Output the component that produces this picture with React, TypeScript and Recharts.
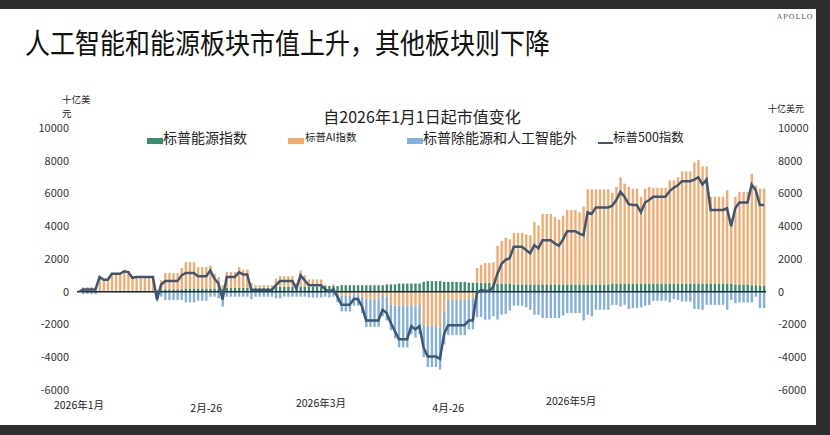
import React from "react";
import { Bar, ComposedChart, Line, ReferenceLine, XAxis, YAxis } from "recharts";

// daily values, 1 Jan 2026 onward, billions of USD
const energy = [
  0, 30, 30, 30, 30, 60, 60, 60, 60, 60,
  60, 60, 60, 60, 60, 60, 60, 60, 60, 60,
  100, 150, 150, 150, 150, 150, 200, 200, 200, 200,
  200, 200, 200, 200, 200, 200, 250, 250, 250, 250,
  250, 250, 250, 250, 250, 250, 250, 250, 300, 300,
  300, 300, 300, 300, 300, 300, 300, 300, 300, 300,
  350, 350, 350, 350, 400, 400, 400, 400, 400, 400,
  400, 400, 400, 400, 400, 450, 450, 450, 500, 500,
  500, 500, 500, 500, 600, 650, 650, 650, 650, 600,
  600, 600, 600, 600, 600, 550, 550, 550, 550, 550,
  550, 500, 500, 500, 500, 500, 450, 450, 450, 450,
  450, 450, 450, 450, 450, 450, 450, 450, 450, 450,
  450, 450, 450, 450, 450, 450, 450, 450, 450, 450,
  500, 500, 500, 500, 500, 500, 500, 500, 500, 500,
  500, 500, 500, 500, 500, 500, 500, 500, 500, 500,
  500, 500, 500, 500, 500, 500, 500, 500, 500, 500,
  450, 450, 450, 450, 400, 400, 350, 350,
];

const ai = [
  0, 250, 250, 250, 250, 900, 700, 700, 1100, 1100,
  1100, 1250, 1200, 850, 900, 900, 900, 900, 900, 100,
  600, 1000, 1000, 1000, 1000, 1300, 1600, 1600, 1600, 1300,
  1300, 1300, 1400, 900, 700, 200, 950, 950, 950, 1250,
  1100, 1100, 300, 150, 150, 150, 150, 150, 500, 650,
  650, 650, 650, 200, 1000, 700, 450, 450, 450, 450,
  100, -50, 100, -200, -250, -250, -250, -150, -150, -300,
  -450, -450, -450, -450, -200, -300, -800, -850, -850, -850,
  -850, -800, -900, -800, -2000, -2100, -2100, -2100, -2200, -1200,
  -500, -500, -500, -500, -500, -400, -400, 900, 1100, 1200,
  1200, 1300, 2300, 2600, 2800, 2700, 3150, 3150, 3150, 3050,
  3000, 3800, 3600, 4300, 4300, 4300, 4100, 3950, 4200, 4550,
  4550, 4550, 4400, 4750, 5800, 5800, 5800, 5800, 5800, 5800,
  5550, 5900, 6500, 6100, 5900, 5800, 5800, 5300, 5800, 5900,
  5850, 5850, 5850, 5850, 6300, 6300, 6500, 6850, 6850, 6850,
  7400, 7550, 7150, 7150, 5300, 5300, 5300, 5300, 5700, 4000,
  5350, 5650, 5650, 5650, 6800, 6100, 5950, 5950,
];

const other = [
  0, -150, -150, -150, -150, -50, -30, -30, -50, -50,
  -50, -50, -50, -50, -50, -50, -50, -50, -50, -600,
  -300, -500, -500, -500, -500, -500, -650, -650, -650, -550,
  -550, -550, -300, -300, -400, -900, -300, -300, -300, -300,
  -300, -300, -450, -300, -300, -300, -300, -300, -400, -400,
  -300, -300, -300, -300, -300, -300, -350, -350, -350, -350,
  -300, -300, -300, -450, -950, -950, -950, -700, -700, -1000,
  -1700, -1700, -1700, -1700, -1300, -1450, -1550, -2000, -2550, -2550,
  -2550, -1800, -1900, -1800, -2000, -2500, -2500, -2500, -2550, -2000,
  -2150, -2150, -2150, -2150, -2150, -1900, -1900, -1550, -1550, -1700,
  -1700, -1500, -1700, -1400, -1350, -1150, -850, -850, -850, -950,
  -1100, -1400, -1400, -1600, -1600, -1600, -1600, -1600, -1450, -1300,
  -1300, -1300, -1300, -1750, -1400, -1500, -1100, -1100, -1100, -1100,
  -800, -800, -900, -800, -1050, -1000, -1000, -950, -850, -800,
  -550, -550, -550, -550, -650, -450, -500, -600, -600, -600,
  -1050, -1050, -1100, -800, -800, -800, -800, -800, -1100, -500,
  -700, -650, -650, -650, -650, -300, -1000, -1000,
];

const sp500 = [
  0, 130, 130, 130, 130, 900, 730, 730, 1100, 1100,
  1100, 1250, 1200, 850, 900, 900, 900, 900, 900, -480,
  430, 650, 650, 650, 650, 1000, 1150, 1150, 1150, 950,
  950, 950, 1300, 800, 500, -480, 900, 900, 900, 1200,
  1050, 1050, 100, 100, 100, 100, 100, 100, 400, 650,
  650, 650, 650, 200, 1000, 700, 400, 400, 400, 400,
  150, 0, 150, -300, -800, -800, -800, -450, -450, -900,
  -1750, -1750, -1750, -1750, -1100, -1300, -1900, -2400, -2900, -2900,
  -2900, -2100, -2300, -2100, -3400, -3950, -3950, -3950, -4100, -2600,
  -2050, -2050, -2050, -2050, -2050, -1750, -1750, -100, 100, 50,
  50, 300, 1100, 1700, 1950, 2050, 2750, 2750, 2750, 2550,
  2350, 2850, 2650, 3150, 3150, 3150, 2950, 2800, 3200, 3700,
  3700, 3700, 3550, 3450, 4850, 4750, 5150, 5150, 5150, 5150,
  5250, 5600, 6100, 5800, 5350, 5300, 5300, 4850, 5450, 5600,
  5800, 5800, 5800, 5800, 6150, 6350, 6500, 6750, 6750, 6750,
  6850, 7000, 6550, 6850, 5000, 5000, 5000, 5000, 5100, 4000,
  5100, 5450, 5450, 5450, 6550, 6200, 5300, 5300,
];

const monthTicks = ["2026-01-01", "2026-02-01", "2026-03-01", "2026-04-01", "2026-05-01"];
const monthLabels = ["2026年1月", "2月-26", "2026年3月", "4月-26", "2026年5月"];
const yTicks = [-6000, -4000, -2000, 0, 2000, 4000, 6000, 8000, 10000];

const DAY = 86400000;
const start = Date.UTC(2026, 0, 1);
const data = sp500.map((v, i) => ({
  date: new Date(start + i * DAY).toISOString().slice(0, 10),
  energy: energy[i],
  ai: ai[i],
  other: other[i],
  sp500: v,
}));

const GREEN = "#3b8d6c";
const ORANGE = "#f2ab70";
const BLUE = "#84b0db";
const NAVY = "#3d5672";

const labelY = [406, 409, 404, 409, 402];

function MonthTick(props: any) {
  const { x, payload } = props;
  const i = monthTicks.indexOf(payload.value);
  if (i < 0) return null;
  return (
    <text x={x} y={labelY[i]} textAnchor="middle" dominantBaseline="middle" fontSize={10.5} fill="#222">
      {monthLabels[i]}
    </text>
  );
}

const legendItems = [
  { label: "标普能源指数", color: GREEN, kind: "box", x: 147, textX: 163, size: 14 },
  { label: "标普AI指数", color: ORANGE, kind: "box", x: 288, textX: 305, size: 10.5 },
  { label: "标普除能源和人工智能外", color: BLUE, kind: "box", x: 407, textX: 423, size: 14 },
  { label: "标普500指数", color: NAVY, kind: "line", x: 598, textX: 613, size: 12.5 },
];

export default function App() {
  return (
    <div
      style={{
        position: "absolute",
        left: 0,
        top: 0,
        width: 830,
        height: 435,
        background: "#2e2e2e",
        overflow: "hidden",
        fontFamily: '"Noto Sans CJK SC", "Noto Sans", sans-serif',
      }}
    >
      <div style={{ position: "absolute", left: 0, top: 9, width: 816, height: 416, background: "#fff" }} />

      <div
        style={{
          position: "absolute",
          left: 777,
          top: 13,
          fontSize: 7,
          letterSpacing: 1,
          color: "#555",
          whiteSpace: "nowrap",
          fontFamily: '"DejaVu Serif", "Liberation Serif", serif',
        }}
      >
        APOLLO
      </div>

      <div
        style={{
          position: "absolute",
          left: 25,
          top: 28,
          fontSize: 25,
          lineHeight: 1,
          color: "#111",
          whiteSpace: "nowrap",
          transform: "scaleY(1.15)",
          transformOrigin: "top left",
        }}
      >
        人工智能和能源板块市值上升，其他板块则下降
      </div>

      <div style={{ position: "absolute", left: 62, top: 92, fontSize: 9.5, lineHeight: "14px", color: "#222" }}>
        十亿美
        <br />元
      </div>
      <div style={{ position: "absolute", left: 768, top: 102, fontSize: 9, color: "#222" }}>十亿美元</div>

      <div
        style={{
          position: "absolute",
          left: 0,
          width: 844,
          top: 108,
          textAlign: "center",
          fontSize: 16,
          lineHeight: 1,
          color: "#222",
        }}
      >
        自2026年1月1日起市值变化
      </div>

      {legendItems.map((it) => (
        <React.Fragment key={it.label}>
          {it.kind === "box" ? (
            <div style={{ position: "absolute", left: it.x, top: 138, width: 16, height: 6, background: it.color }} />
          ) : (
            <div style={{ position: "absolute", left: it.x, top: 142, width: 15, height: 2, background: it.color }} />
          )}
          <div
            style={{
              position: "absolute",
              left: it.textX,
              top: 138 - it.size / 2 - 1,
              fontSize: it.size,
              lineHeight: 1,
              color: "#222",
              whiteSpace: "nowrap",
            }}
          >
            {it.label}
          </div>
        </React.Fragment>
      ))}

      <div style={{ position: "absolute", left: 0, top: 0 }}>
        <ComposedChart
          width={830}
          height={435}
          data={data}
          margin={{ top: 128, right: 14, bottom: 15, left: 37 }}
          stackOffset="sign"
          barSize={2.4}
          style={{ fontFamily: '"Noto Sans CJK SC", "Noto Sans", sans-serif' }}
        >
          <XAxis
            dataKey="date"
            ticks={monthTicks}
            interval={0}
            tickLine={false}
            axisLine={false}
            height={30}
            tick={(p: any) => <MonthTick {...p} />}
          />
          <YAxis
            yAxisId="left"
            domain={[-6000, 10000]}
            ticks={yTicks}
            interval={0}
            tickLine={false}
            axisLine={false}
            width={40}
            tick={{ fontSize: 11, fill: "#333" }}
          />
          <YAxis
            yAxisId="right"
            orientation="right"
            domain={[-6000, 10000]}
            ticks={yTicks}
            interval={0}
            tickLine={false}
            axisLine={false}
            width={50}
            tickMargin={6}
            tick={{ fontSize: 11, fill: "#333", textAnchor: "start" }}
          />
          <Bar yAxisId="left" dataKey="energy" stackId="s" fill={GREEN} isAnimationActive={false} />
          <Bar yAxisId="left" dataKey="ai" stackId="s" fill={ORANGE} isAnimationActive={false} />
          <Bar yAxisId="left" dataKey="other" stackId="s" fill={BLUE} isAnimationActive={false} />
          <ReferenceLine yAxisId="left" y={0} stroke="#1d2b36" strokeWidth={1.5} />
          <Line
            yAxisId="right"
            dataKey="sp500"
            type="linear"
            stroke={NAVY}
            strokeWidth={2.5}
            dot={false}
            isAnimationActive={false}
          />
        </ComposedChart>
      </div>
    </div>
  );
}
